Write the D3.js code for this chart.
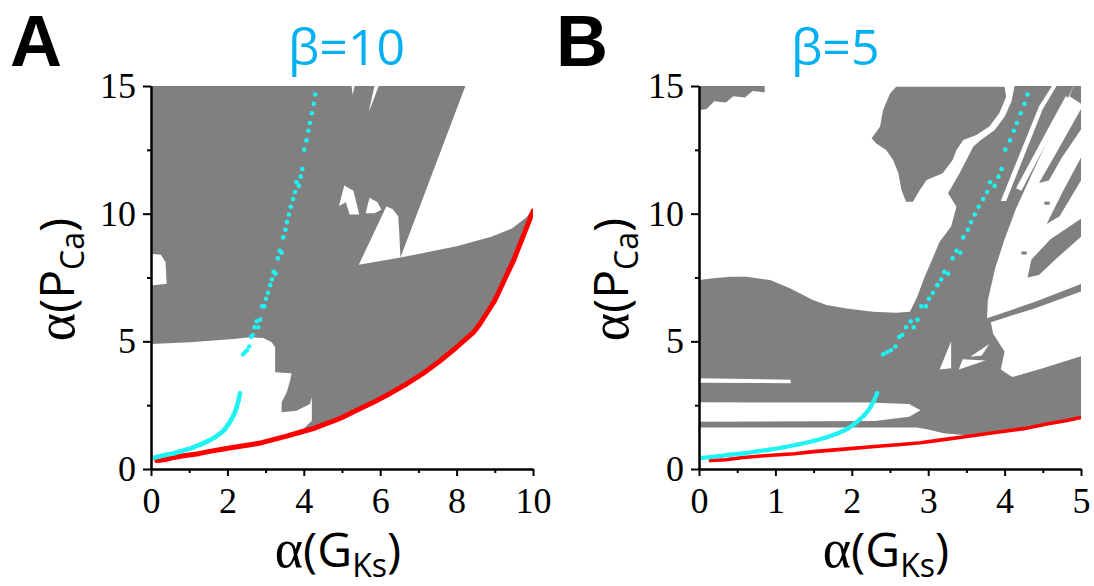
<!DOCTYPE html>
<html><head><meta charset="utf-8">
<script src="https://cdn.jsdelivr.net/npm/d3@7"></script>
<style>body{margin:0;background:#fff}</style></head>
<body>
<svg id="chart" width="1094" height="586"></svg>
<script>
// ---------- data ----------
const yTicks = [0, 5, 10, 15];
const yMinor = [2.5, 7.5, 12.5];
const xTicksA = [0, 2, 4, 6, 8, 10];
const xMinorA = [1, 3, 5, 7, 9];
const xTicksB = [0, 1, 2, 3, 4, 5];
const xMinorB = [0.5, 1.5, 2.5, 3.5, 4.5];
const panelLabels = ["A", "B"];
const betaLabels = ["β=10", "β=5"];

// red boundary (same curve in both panels)
const redBoundary = [[0.15,0.33],[0.35,0.36],[0.55,0.44],[0.85,0.52],[1.05,0.56],[1.25,0.60],[1.5,0.68],[1.9,0.78],[2.3,0.88],[2.6,0.95],[2.9,1.03],[3.2,1.15],[3.55,1.29],[3.9,1.44],[4.25,1.58],[4.55,1.76],[4.8,1.89],[5.0,2.02],[5.4,2.31],[5.82,2.61],[6.26,2.96],[6.69,3.33],[7.13,3.75],[7.57,4.24],[8.0,4.77],[8.44,5.35],[8.61,5.68],[9.0,6.6],[9.5,8.2],[10.0,10.1]];

// cyan experimental points: dense lower branch and sparse upper branch
const cyanDense = [[0.02,0.43],[0.15,0.47],[0.24,0.50],[0.41,0.56],[0.58,0.61],[0.76,0.69],[0.93,0.76],[1.11,0.85],[1.28,0.95],[1.5,1.1],[1.65,1.22],[1.8,1.38],[1.94,1.57],[2.03,1.76],[2.1,1.93],[2.16,2.1],[2.21,2.27],[2.25,2.46],[2.29,2.68],[2.33,2.96]];
const cyanSparse = [[2.41,4.49],[2.46,4.57],[2.51,4.65],[2.57,4.80],[2.62,5.17],[2.66,5.25],[2.71,5.55],[2.81,5.55],[2.77,5.78],[2.86,5.85],[2.91,6.37],[2.97,6.37],[3.01,6.67],[3.06,6.90],[3.12,7.20],[3.17,7.42],[3.21,7.72],[3.26,7.65],[3.32,8.25],[3.37,8.55],[3.42,8.47],[3.46,9.07],[3.52,9.37],[3.56,9.67],[3.61,9.97],[3.66,10.27],[3.72,10.57],[3.77,10.85],[3.81,11.23],[3.87,11.09],[3.92,11.45],[3.96,11.75],[4.01,12.51],[4.07,12.87],[4.12,13.25],[4.16,13.55],[4.21,13.93],[4.26,14.30],[4.30,14.67]];

// grey regions, panel A (polygons in data units)
const greyA = [
  [[0,15],[8.23,15],[6.53,8.28],[8.0,8.72],[8.91,9.1],[9.45,9.42],[9.83,9.86],[10,10.2],[10,10.1],[9.5,8.2],[9.0,6.6],[8.61,5.68],[8.44,5.35],[8.0,4.77],[7.57,4.24],[7.13,3.75],[6.69,3.33],[6.26,2.96],[5.82,2.61],[5.4,2.31],[5.0,2.02],[4.55,1.76],[4.25,1.58],[3.9,1.44],[4.21,1.89],[4.21,2.81],[4.16,2.55],[3.81,2.28],[3.42,2.22],[3.42,2.61],[3.55,3.0],[3.64,3.46],[3.68,3.75],[3.25,3.79],[3.25,4.77],[3.16,4.96],[2.94,5.13],[2.59,5.16],[2.16,5.09],[1.02,4.96],[0,4.9]]
];
const whiteA = [
  [[0,8.43],[0.26,8.39],[0.38,8.1],[0.41,7.26],[0,7.19]],
  [[5.44,8.0],[6.16,10.28],[6.32,10.18],[6.47,9.9],[6.5,9.2],[6.53,8.28]],
  [[4.92,10.3],[5.06,11.1],[5.3,10.9],[5.45,9.97],[5.2,9.97],[5.1,10.45]],
  [[5.62,10.02],[5.72,10.62],[5.93,10.45],[6.03,10.15],[5.85,10.02]],
  [[5.7,14.0],[5.85,15],[5.96,15],[5.8,14.35]],
  [[5.25,15],[5.33,15],[5.28,14.65]]
];

// grey regions, panel B
const greyB = [
  [[0,14.05],[0,15],[0.86,15],[0.86,14.75],[0.7,14.8],[0.6,14.55],[0.45,14.6],[0.35,14.35],[0.2,14.4],[0.1,14.1]],
  [[2.26,12.95],[2.37,13.41],[2.41,14.06],[2.50,14.71],[2.58,14.97],[4.00,14.97],[4.02,14.58],[3.93,13.93],[3.80,13.41],[3.63,13.08],[3.46,12.89],[3.37,12.49],[3.32,12.10],[3.19,11.58],[2.98,11.32],[2.89,10.93],[2.80,10.47],[2.71,10.47],[2.65,10.93],[2.61,11.58],[2.54,12.10],[2.45,12.49],[2.32,12.75]],
  [[0,2.61],[0,7.40],[0.19,7.47],[0.41,7.53],[0.62,7.53],[0.93,7.40],[1.19,7.08],[1.49,6.62],[1.67,6.42],[1.93,6.29],[2.28,6.16],[2.58,6.12],[2.76,6.16],[2.85,6.7],[2.95,7.5],[3.05,8.2],[3.15,8.9],[3.30,9.5],[3.37,10.27],[3.26,10.8],[3.41,11.58],[3.50,12.10],[3.59,12.63],[3.69,12.89],[3.87,13.28],[4.00,13.80],[4.09,14.39],[4.13,15.0],[4.9,15.0],[4.75,14.0],[4.55,12.8],[4.35,11.5],[4.15,10.2],[4.0,9.0],[3.88,7.9],[3.78,6.6],[3.77,5.9],[4.4,6.55],[5.0,7.25],[5.0,2.05],[4.5,1.72],[4.0,1.5],[3.5,1.32],[3.2,1.4],[3.0,1.55],[2.85,1.63],[0,1.63],[0,1.85],[2.3,1.88],[2.75,2.05],[2.9,2.3],[2.75,2.55],[2.2,2.6]],
  [[4.45,11.2],[4.7,12.5],[5.0,14.1],[5.0,13.3],[4.75,12.2],[4.58,11.3]],
  [[4.55,9.6],[4.75,10.8],[5.0,12.2],[5.0,11.3],[4.72,9.9]],
  [[4.3,7.5],[4.35,8.2],[4.6,9.0],[5.0,9.8],[5.0,9.1],[4.7,8.3],[4.45,7.6]],
  [[4.85,14.6],[5.0,14.3],[5.0,15],[4.9,15]],
  [[4.22,8.4],[4.29,8.4],[4.29,8.52],[4.22,8.52]],
  [[4.52,10.35],[4.59,10.35],[4.59,10.47],[4.52,10.47]]
];
const whiteB = [
  [[0,3.38],[1.2,3.36],[1.2,3.5],[0,3.55]],
  [[3.82,5.75],[4.4,6.3],[5.0,6.95],[5.0,4.42],[4.5,3.95],[4.1,3.6],[3.95,3.9],[4.0,4.6],[3.85,5.3]],
  [[3.15,3.9],[3.3,5.0],[3.3,3.95]],
  [[3.4,3.9],[3.75,4.25],[3.45,4.3]],
  [[3.55,4.4],[3.8,4.9],[3.7,4.45]],
  [[3.95,10.5],[4.45,14.2],[4.62,15],[4.68,15],[4.5,14.1],[4.02,10.5]],
  [[4.15,11.0],[4.6,13.5],[4.8,14.6],[4.85,14.5],[4.66,13.4],[4.22,10.9]]
];

// ---------- drawing ----------
const svg = d3.select("#chart");
const GREY = "#808080", RED = "#ff0000", CYAN = "#1ff2f2", BLUE = "#00b0f0";
const plotTop = 86, plotBottom = 469;
const SERIF = "'Liberation Serif', 'Times New Roman', 'DejaVu Serif', serif";
const SANS = "'Open Sans', 'Liberation Sans', sans-serif";

const panels = [
  {label: panelLabels[0], beta: betaLabels[0], x0: 151, x1: 533, dom: [0, 10], ticks: xTicksA, minor: xMinorA, grey: greyA, white: whiteA,
   lab: [10, 66], betaPos: [288, 65], yTitleX: 74, redW: 5, cyanW: 4.6},
  {label: panelLabels[1], beta: betaLabels[1], x0: 699, x1: 1081, dom: [0, 5], ticks: xTicksB, minor: xMinorB, grey: greyB, white: whiteB,
   lab: [556, 66], betaPos: [791, 65], yTitleX: 628, redW: 3.6, cyanW: 4.2}
];

panels.forEach((p, i) => {
  const x = d3.scaleLinear().domain(p.dom).range([p.x0, p.x1]);
  const y = d3.scaleLinear().domain([0, 15]).range([plotBottom, plotTop]);
  const line = d3.line().x(d => x(d[0])).y(d => y(d[1]));
  const clipId = "clip" + i;
  svg.append("clipPath").attr("id", clipId).append("rect")
    .attr("x", p.x0).attr("y", plotTop).attr("width", p.x1 - p.x0).attr("height", plotBottom - plotTop);
  const g = svg.append("g").attr("clip-path", `url(#${clipId})`);

  g.selectAll("path.grey").data(p.grey).join("path").attr("class", "grey")
    .attr("d", d => line(d) + "Z").attr("fill", GREY);
  g.selectAll("path.white").data(p.white).join("path").attr("class", "white")
    .attr("d", d => line(d) + "Z").attr("fill", "#fff");

  g.append("path").datum(redBoundary).attr("d", line)
    .attr("fill", "none").attr("stroke", RED).attr("stroke-width", p.redW)
    .attr("stroke-linecap", "round").attr("stroke-linejoin", "round");

  g.append("path").datum(cyanDense).attr("d", d3.line().x(d => x(d[0])).y(d => y(d[1])).curve(d3.curveMonotoneX))
    .attr("fill", "none").attr("stroke", CYAN).attr("stroke-width", p.cyanW).attr("stroke-linecap", "round");
  g.selectAll("circle.cd").data(cyanDense).join("circle").attr("class", "cd")
    .attr("cx", d => x(d[0])).attr("cy", d => y(d[1])).attr("r", 2.3).attr("fill", CYAN);
  g.selectAll("circle.cs").data(cyanSparse).join("circle").attr("class", "cs")
    .attr("cx", d => x(d[0])).attr("cy", d => y(d[1])).attr("r", 2.3).attr("fill", CYAN);

  // axes
  const axStyle = sel => {
    sel.attr("font-family", null).attr("font-size", null);
    sel.selectAll("path.domain").attr("stroke", "#000").attr("stroke-width", 2);
    sel.selectAll(".tick line").attr("stroke", "#000").attr("stroke-width", 2);
    sel.selectAll(".tick text").style("font-family", SERIF).style("font-size", "36px").attr("fill", "#000");
  };
  svg.append("g").attr("transform", `translate(0,${plotBottom})`)
    .call(d3.axisBottom(x).tickValues(p.minor).tickSize(4).tickSizeOuter(0).tickFormat(""))
    .call(axStyle);
  svg.append("g").attr("transform", `translate(0,${plotBottom})`)
    .call(d3.axisBottom(x).tickValues(p.ticks).tickSize(7).tickSizeOuter(0).tickPadding(11).tickFormat(d3.format("d")))
    .call(axStyle);
  svg.append("g").attr("transform", `translate(${p.x0},0)`)
    .call(d3.axisLeft(y).tickValues(yMinor).tickSize(4).tickSizeOuter(0).tickFormat(""))
    .call(axStyle);
  svg.append("g").attr("transform", `translate(${p.x0},0)`)
    .call(d3.axisLeft(y).tickValues(yTicks).tickSize(8).tickSizeOuter(0).tickPadding(7).tickFormat(d3.format("d")))
    .call(axStyle);

  // panel label
  svg.append("text").attr("x", p.lab[0]).attr("y", p.lab[1]).text(p.label)
    .style("font-family", "'Liberation Sans', Arial, sans-serif").attr("font-weight", "bold")
    .style("font-size", "72px").attr("fill", "#000");
  // beta title
  svg.append("text").attr("x", p.betaPos[0]).attr("y", p.betaPos[1]).text(p.beta)
    .style("font-family", SANS).style("font-size", "50px").attr("fill", BLUE);

  // axis titles
  const xt = svg.append("text").attr("x", (p.x0 + p.x1) / 2 - 4).attr("y", 567)
    .attr("text-anchor", "middle").style("font-family", SANS).style("font-size", "48px").attr("fill", "#000");
  xt.append("tspan").style("font-family", SERIF).style("font-size", "54px").text("α");
  xt.append("tspan").text("(G");
  xt.append("tspan").style("font-size", "32px").attr("dy", 10).text("Ks");
  xt.append("tspan").attr("dy", -10).text(")");

  const yt = svg.append("text").attr("transform", `translate(${p.yTitleX},${(plotTop + plotBottom) / 2 + 2}) rotate(-90)`)
    .attr("text-anchor", "middle").style("font-family", SANS).style("font-size", "48px").attr("fill", "#000");
  yt.append("tspan").style("font-family", SERIF).style("font-size", "54px").text("α");
  yt.append("tspan").text("(P");
  yt.append("tspan").style("font-size", "32px").attr("dy", 10).text("Ca");
  yt.append("tspan").attr("dy", -10).text(")");
});
</script>
</body></html>
